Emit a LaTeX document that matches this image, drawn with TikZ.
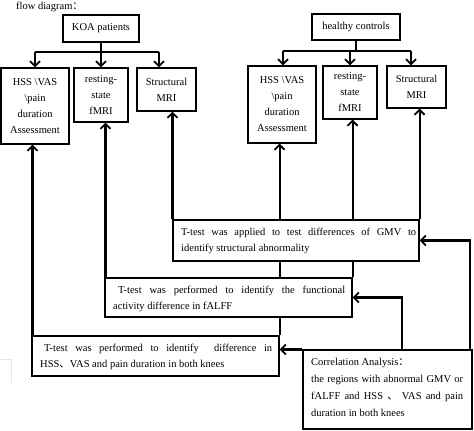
\documentclass[tikz,border=0pt]{standalone}
\usepackage{fontspec}
\setmainfont{Liberation Serif}
\newfontfamily\cjk{Noto Sans CJK SC}
\usetikzlibrary{arrows.meta,backgrounds}
\newcommand\myfs{\fontsize{10.5}{16}\selectfont}
\begin{document}
\begin{tikzpicture}[x=1pt,y=-1pt,
  boxnode/.style={draw,line width=1.1pt,fill=white,inner sep=0pt,align=center,font=\myfs},
  txt/.style={inner sep=0pt,align=justify,font=\myfs,anchor=north west},
  conn/.style={line width=2.1pt},
  arr/.style={line width=2.1pt,-{Straight Barb[length=5pt,width=10pt,line width=1.8pt]}}]
\useasboundingbox (0,0) rectangle (474,431);
% title
\node[anchor=west,inner sep=0pt,font=\myfs] (title) at (16,7) {flow diagram{\cjk：}};
% top boxes
\node[boxnode,minimum width=76pt,minimum height=27pt] (koa) at (101,28.5) {KOA patients};
\node[boxnode,minimum width=88pt,minimum height=26pt] (hc) at (356,27) {healthy controls};
\node[boxnode,minimum width=68pt,minimum height=76pt] (hssL) at (35,106) {HSS \textbackslash VAS\\\textbackslash pain\\duration\\Assessment};
\node[boxnode,minimum width=54pt,minimum height=54pt] (fmriL) at (101,95) {resting-\\state\\fMRI};
\node[boxnode,minimum width=59pt,minimum height=43pt] (smriL) at (166.5,89.5) {Structural\\MRI};
\node[boxnode,minimum width=68pt,minimum height=77pt] (hssR) at (282,104.5) {HSS \textbackslash VAS\\\textbackslash pain\\duration\\Assessment};
\node[boxnode,minimum width=54pt,minimum height=53pt] (fmriR) at (350,92.5) {resting-\\state\\fMRI};
\node[boxnode,minimum width=59pt,minimum height=42pt] (smriR) at (416.5,87) {Structural\\MRI};
% analysis boxes
\node[boxnode,minimum width=246pt,minimum height=41pt] (gmv) at (296,240.5) {};
\node[boxnode,minimum width=247pt,minimum height=39pt] (falff) at (228.5,297.5) {};
\node[boxnode,minimum width=247pt,minimum height=40pt] (hssT) at (155.5,356) {};
\node[boxnode,minimum width=169pt,minimum height=79pt] (corr) at (387.5,389.5) {};
\node[txt,text width=235pt] (gmvtext) at (181,228) {T-test was applied to test differences of GMV to\linebreak identify structural abnormality};
\node[txt,text width=232pt] (falfftext) at (113,286) {\hspace*{5pt}T-test was performed to identify the functional\linebreak activity difference in fALFF};
\node[txt,text width=232pt] (hsstext) at (40,344) {\hspace*{4pt}T-test was performed to identify\ \ difference in\linebreak HSS{\cjk、}VAS and pain duration in both knees};
\node[txt,text width=152pt,font=\fontsize{10.5}{17}\selectfont] (corrtext) at (311,358) {Correlation Analysis{\cjk：}\\the regions with abnormal GMV or\linebreak fALFF and HSS {\cjk、} VAS and pain\linebreak duration in both knees};
% faint mark at left
\draw[gray!20,line width=0.8pt] (0,359) -- (11,359) -- (11,383);
\begin{pgfonlayer}{background}
\fill[white] (0,0) rectangle (474,431);
% branches
\coordinate (kl) at (35,52);
\coordinate (kr) at (159,52);
\coordinate (hl) at (283,51);
\coordinate (hr) at (411,51);
\draw[conn] (koa.south) -- (koa.south |- kl);
\draw[conn] (kl) -- (kr);
\draw[arr] (kl) -- (kl |- hssL.north);
\draw[arr] (koa.south |- kl) -- (fmriL.north);
\draw[arr] (kr) -- (kr |- smriL.north);
\draw[conn] (hc.south) -- (hc.south |- hl);
\draw[conn] (hl) -- (hr);
\draw[arr] (hl) -- (hl |- hssR.north);
\draw[arr] (fmriR.north |- hl) -- (fmriR.north);
\draw[arr] (hr) -- (hr |- smriR.north);
% upward arrows
\draw[arr] ([xshift=1pt]hssT.north west) -- ([xshift=1pt]hssT.north west |- hssL.south);
\draw[arr] ([xshift=1pt]falff.north west) -- ([xshift=1pt]falff.north west |- fmriL.south);
\draw[arr] (gmv.north west) -- (gmv.north west |- smriL.south);
\draw[arr] (hssT.north east) -- (hssT.north east |- hssR.south);
\draw[arr] (falff.north east) -- (falff.north east |- fmriR.south);
\draw[arr] (gmv.north east) -- (gmv.north east |- smriR.south);
% correlation arrows
\coordinate (c1) at (470,350);
\coordinate (c2) at (402,350);
\draw[arr] (c1) |- (gmv.east);
\draw[arr] (c2) |- (falff.east);
\draw[arr] (corr.north west) -- (corr.north west -| hssT.east);
\end{pgfonlayer}
\end{tikzpicture}
\end{document}
